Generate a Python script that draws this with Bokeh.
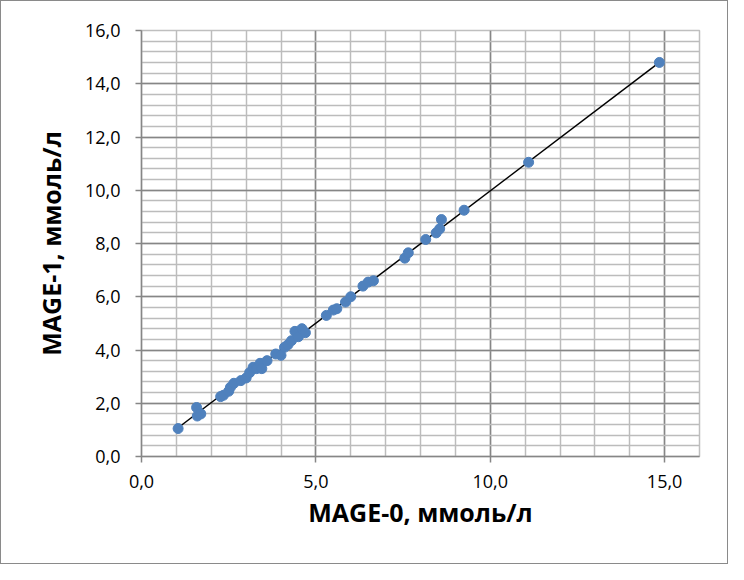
from bokeh.plotting import figure
from bokeh.models import FixedTicker, Range1d
from bokeh.embed import file_html
from bokeh.resources import INLINE

# data (MAGE-0 vs MAGE-1, mmol/L)
mage0 = [1.05, 1.58, 1.60, 1.70, 2.27, 2.35, 2.50, 2.55, 2.65, 2.85, 3.00, 3.10,
         3.20, 3.30, 3.40, 3.45, 3.60, 3.85, 4.00, 4.10, 4.20, 4.30, 4.40, 4.50,
         4.60, 4.70, 5.30, 5.50, 5.60, 5.85, 6.00, 6.35, 6.50, 6.65, 7.55, 7.65,
         8.15, 8.45, 8.55, 8.60, 9.25, 11.10, 14.85]
mage1 = [1.05, 1.84, 1.52, 1.60, 2.25, 2.30, 2.45, 2.60, 2.75, 2.85, 2.95, 3.15,
         3.35, 3.30, 3.50, 3.30, 3.60, 3.85, 3.80, 4.10, 4.20, 4.35, 4.70, 4.50,
         4.80, 4.65, 5.30, 5.50, 5.55, 5.80, 6.00, 6.40, 6.55, 6.60, 7.45, 7.65,
         8.15, 8.40, 8.55, 8.90, 9.25, 11.05, 14.80]
trend_x = [1.05, 14.85]
trend_y = [1.08, 14.80]

x_major = [0, 5, 10, 15]
x_minor = list(range(0, 17))
y_major = [0, 2, 4, 6, 8, 10, 12, 14, 16]
y_minor = [round(i * 0.4, 1) for i in range(41)]

def fmt(v):
    return f"{v:.1f}".replace(".", ",")

p = figure(width=728, height=564, output_backend="svg", toolbar_location=None,
           x_range=Range1d(0, 16), y_range=Range1d(0, 16),
           min_border_left=140, min_border_right=30, min_border_top=29, min_border_bottom=109)
p.styles = {"border": "1px solid #8a8a8a"}
p.outline_line_color = "#bfbfbf"
p.outline_line_width = 1.5

p.xaxis.ticker = FixedTicker(ticks=x_major, minor_ticks=x_minor)
p.yaxis.ticker = FixedTicker(ticks=y_major, minor_ticks=y_minor)
p.xaxis.major_label_overrides = {v: fmt(v) for v in x_major}
p.yaxis.major_label_overrides = {v: fmt(v) for v in y_major}

for ax in (p.xaxis, p.yaxis):
    ax.axis_line_color = "#868686"
    ax.axis_line_width = 1.5
    ax.major_tick_line_color = "#868686"
    ax.major_tick_line_width = 1.5
    ax.major_tick_out = 6
    ax.major_tick_in = 0
    ax.minor_tick_line_color = None
    ax.major_label_text_font = "Open Sans"
    ax.major_label_text_font_size = "18px"
    ax.major_label_text_color = "#000000"
    ax.axis_label_text_font = "Open Sans"
    ax.axis_label_text_font_style = "bold"
    ax.axis_label_text_font_size = "25px"
    ax.axis_label_text_color = "#000000"

p.xaxis.axis_label = "MAGE-0, ммоль/л"
p.yaxis.axis_label = "MAGE-1, ммоль/л"
p.xaxis.major_label_standoff = 12
p.xaxis.axis_label_standoff = 4
p.yaxis.major_label_standoff = 15
p.yaxis.axis_label_standoff = 14

for g in (p.xgrid, p.ygrid):
    g.grid_line_color = "#868686"
    g.grid_line_width = 1.5
    g.minor_grid_line_color = "#bcbcbc"
    g.minor_grid_line_width = 1.5

p.line(trend_x, trend_y, line_color="black", line_width=1.5)
p.scatter(mage0, mage1, size=10, fill_color="#4f81bd", line_color="#4f81bd")

open("out.html", "w").write(file_html(p, INLINE))
